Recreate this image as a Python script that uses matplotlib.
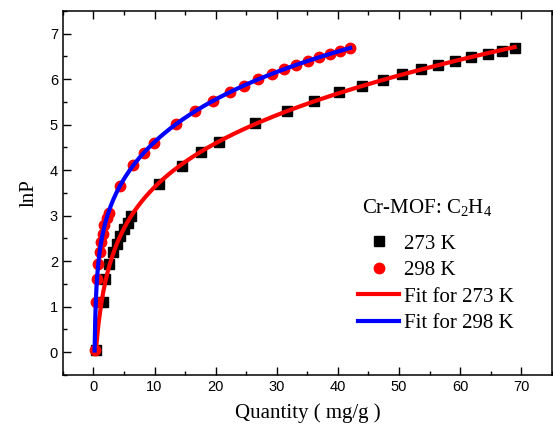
import matplotlib
matplotlib.use('Agg')
import matplotlib.pyplot as plt
import numpy as np
from matplotlib.ticker import MultipleLocator

# 273 K data (Quantity mg/g, lnP)
q_273 = [0.4, 1.5, 1.9, 2.6, 3.2, 3.8, 4.4, 5.0, 5.6, 6.2,
         10.7, 14.5, 17.6, 20.5, 26.5, 31.6, 36.1, 40.2, 43.9, 47.4,
         50.5, 53.6, 56.4, 59.2, 61.7, 64.5, 66.8, 68.9]
lnp_273 = [0.05, 1.1, 1.6, 1.95, 2.2, 2.38, 2.55, 2.7, 2.85, 3.0,
           3.7, 4.1, 4.4, 4.62, 5.03, 5.3, 5.52, 5.71, 5.86, 5.99,
           6.12, 6.23, 6.32, 6.41, 6.48, 6.55, 6.63, 6.69]

# 298 K data
q_298 = [0.2, 0.4, 0.6, 0.8, 1.0, 1.2, 1.5, 1.8, 2.2, 2.6,
         4.3, 6.5, 8.3, 9.9, 13.5, 16.6, 19.5, 22.3, 24.6, 27.0,
         29.2, 31.2, 33.2, 35.1, 36.9, 38.7, 40.3, 42.0]
lnp_298 = [0.05, 1.1, 1.6, 1.95, 2.2, 2.42, 2.6, 2.8, 2.95, 3.05,
           3.65, 4.11, 4.38, 4.6, 5.02, 5.31, 5.53, 5.71, 5.86, 6.0,
           6.12, 6.22, 6.31, 6.4, 6.48, 6.56, 6.62, 6.69]

x_ticks = [0, 10, 20, 30, 40, 50, 60, 70]
y_ticks = [0, 1, 2, 3, 4, 5, 6, 7]


def fit_curve(q, lnp, deg=4):
    # smooth fit of lnP as a polynomial in ln(N)
    q = np.array(q)
    coef = np.polyfit(np.log(q), np.array(lnp), deg)
    xs = np.linspace(q.min(), q.max(), 400)
    return xs, np.polyval(coef, np.log(xs))


plt.rcParams['font.family'] = 'Liberation Serif'

fig = plt.figure(figsize=(5.53, 4.34), dpi=100)
ax = fig.add_axes([0.1136, 0.136, 0.8844, 0.8387])

ax.plot(q_273, lnp_273, 's', color='black', ms=7, mec='black', label='273 K', zorder=2)
ax.plot(q_298, lnp_298, 'o', color='red', ms=7.5, mec='red', label='298 K', zorder=3)
xf, yf = fit_curve(q_273, lnp_273)
ax.plot(xf, yf, '-', color='red', lw=3, label='Fit for 273 K', zorder=4)
xf, yf = fit_curve(q_298, lnp_298)
ax.plot(xf, yf, '-', color='blue', lw=3, label='Fit for 298 K', zorder=5)

ax.set_xlim(-5, 75)
ax.set_ylim(-0.5, 7.5)
ax.set_xticks(x_ticks)
ax.set_yticks(y_ticks)
ax.xaxis.set_minor_locator(MultipleLocator(5))
ax.yaxis.set_minor_locator(MultipleLocator(0.5))
ax.tick_params(which='both', direction='in', top=True, right=False, width=1,
               labelfontfamily='Liberation Sans', labelsize=10.5)
ax.tick_params(which='major', length=6)
ax.tick_params(which='minor', length=3)
for s in ax.spines.values():
    s.set_linewidth(1.1)

ax.set_xlabel('Quantity ( mg/g )', fontsize=15, labelpad=7)
ax.set_ylabel('lnP', fontsize=15, labelpad=8)

ax.text(0.6116, 0.445, r'Cr-MOF: $\mathregular{C_2H_4}$', transform=ax.transAxes,
        fontsize=15, ha='left', va='baseline')
leg = ax.legend(loc='upper left', bbox_to_anchor=(0.603, 0.387), frameon=False,
                fontsize=15, handlelength=2.0, handletextpad=0.2, labelspacing=0.33,
                borderpad=0, borderaxespad=0)

fig.savefig('out.png', dpi=100)
